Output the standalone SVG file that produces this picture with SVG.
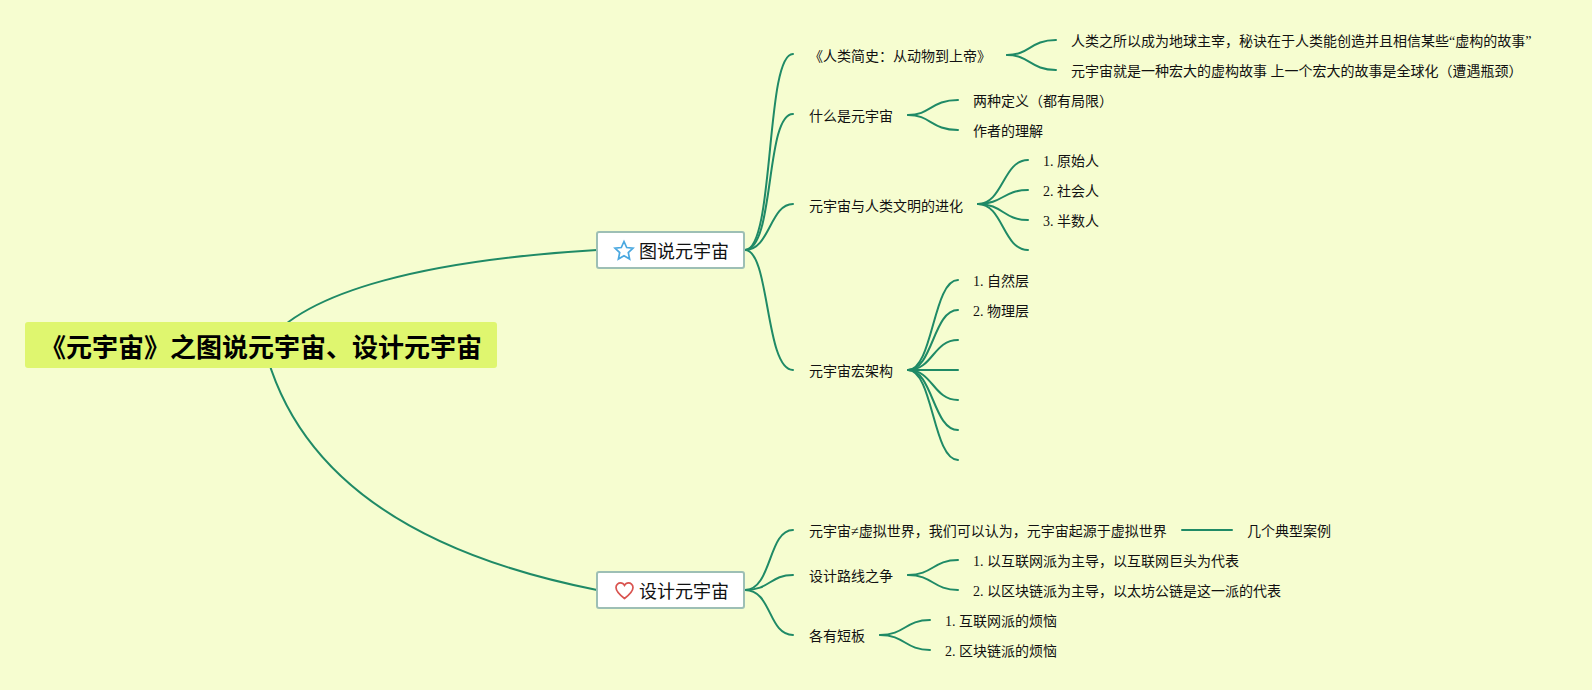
<svg xmlns="http://www.w3.org/2000/svg" width="1592" height="690" viewBox="0 0 1592 690">
<defs><style>
text{font-family:"Liberation Serif","Noto Sans CJK SC",serif;font-size:14px;fill:#111}
.c{fill:none;stroke:#1f8a66;stroke-width:2;stroke-linecap:round}
.b{fill:#fff;stroke:#9dbfb5;stroke-width:2}
.bt{font-size:18px}
</style></defs>
<rect width="1592" height="690" fill="#f6fdd0"/>
<g id="connectors">
<path class="c" d="M265 345C305 290 430 260 597 250"/>
<path class="c" d="M264 345C297 480 420 555 597 590"/>
<path class="c" d="M745 250C775 250 765 54 793 54"/>
<path class="c" d="M745 250C775 250 765 114 793 114"/>
<path class="c" d="M745 250C770 250 770 204 793 204"/>
<path class="c" d="M745 250C770 250 765 370 793 370"/>
<path class="c" d="M1007 55C1030 55 1030 40 1056 40"/>
<path class="c" d="M1007 55C1030 55 1030 70 1056 70"/>
<path class="c" d="M908 115C931 115 931 100 958 100"/>
<path class="c" d="M908 115C931 115 931 130 958 130"/>
<path class="c" d="M978 204C1003 204 1003 160 1028 160"/>
<path class="c" d="M978 204C1003 204 1003 190 1028 190"/>
<path class="c" d="M978 204C1003 204 1003 220 1028 220"/>
<path class="c" d="M978 204C1003 204 1003 250 1028 250"/>
<path class="c" d="M908 370C933 370 933 280 958 280"/>
<path class="c" d="M908 370C933 370 933 310 958 310"/>
<path class="c" d="M908 370C933 370 933 340 958 340"/>
<path class="c" d="M908 370H958"/>
<path class="c" d="M908 370C933 370 933 400 958 400"/>
<path class="c" d="M908 370C933 370 933 430 958 430"/>
<path class="c" d="M908 370C933 370 933 460 958 460"/>
<path class="c" d="M745 590C772 590 768 530 793 530"/>
<path class="c" d="M745 590C770 590 770 575 793 575"/>
<path class="c" d="M745 590C772 590 768 635 793 635"/>
<path class="c" d="M1182 530H1232"/>
<path class="c" d="M908 575C933 575 933 560 958 560"/>
<path class="c" d="M908 575C933 575 933 590 958 590"/>
<path class="c" d="M880 635C905 635 905 620 930 620"/>
<path class="c" d="M880 635C905 635 905 650 930 650"/>
</g>
<g id="root"><rect x="25" y="322" width="472" height="46" rx="3" fill="#dff66f"/><text x="40" y="357" style="font-size:26px;font-weight:bold;fill:#000">《元宇宙》之图说元宇宙、设计元宇宙</text></g>
<g id="b1"><rect class="b" x="597" y="232" width="147" height="36" rx="2"/><path d="M624 241.500L626.700 247.500L633 248.200L628.300 252.500L629.600 259L624 255.700L618.400 259L619.700 252.500L615 248.200L621.300 247.500Z" fill="none" stroke="#4aa8e0" stroke-width="1.700"/><text class="bt" x="639" y="258">图说元宇宙</text></g>
<g id="b2"><rect class="b" x="597" y="572" width="147" height="36" rx="2"/><path d="M624.500 598.500C618 593.500 616 590.500 616 587.500C616 584.500 618.500 582.800 620.500 582.800C622.300 582.800 623.700 583.800 624.500 585.300C625.300 583.800 626.700 582.800 628.500 582.800C630.500 582.800 633 584.500 633 587.500C633 590.500 631 593.500 624.500 598.500Z" fill="none" stroke="#d9534f" stroke-width="1.700"/><text class="bt" x="639" y="598">设计元宇宙</text></g>
<g id="n1"><text x="809" y="61">《人类简史：从动物到上帝》</text></g>
<g id="n11"><text x="1071" y="46">人类之所以成为地球主宰，秘诀在于人类能创造并且相信某些“虚构的故事”</text></g>
<g id="n12"><text x="1071" y="76">元宇宙就是一种宏大的虚构故事 上一个宏大的故事是全球化（遭遇瓶颈）</text></g>
<g id="n2"><text x="809" y="121">什么是元宇宙</text></g>
<g id="n21"><text x="973" y="106">两种定义（都有局限）</text></g>
<g id="n22"><text x="973" y="136">作者的理解</text></g>
<g id="n3"><text x="809" y="211">元宇宙与人类文明的进化</text></g>
<g id="n31"><text x="1043" y="166">1. 原始人</text></g>
<g id="n32"><text x="1043" y="196">2. 社会人</text></g>
<g id="n33"><text x="1043" y="226">3. 半数人</text></g>
<g id="n4"><text x="809" y="376">元宇宙宏架构</text></g>
<g id="n41"><text x="973" y="286">1. 自然层</text></g>
<g id="n42"><text x="973" y="316">2. 物理层</text></g>
<g id="n5"><text x="809" y="536">元宇宙≠虚拟世界，我们可以认为，元宇宙起源于虚拟世界</text></g>
<g id="n51"><text x="1247" y="536">几个典型案例</text></g>
<g id="n6"><text x="809" y="581">设计路线之争</text></g>
<g id="n61"><text x="973" y="566">1. 以互联网派为主导，以互联网巨头为代表</text></g>
<g id="n62"><text x="973" y="596">2. 以区块链派为主导，以太坊公链是这一派的代表</text></g>
<g id="n7"><text x="809" y="641">各有短板</text></g>
<g id="n71"><text x="945" y="626">1. 互联网派的烦恼</text></g>
<g id="n72"><text x="945" y="656">2. 区块链派的烦恼</text></g>
</svg>
